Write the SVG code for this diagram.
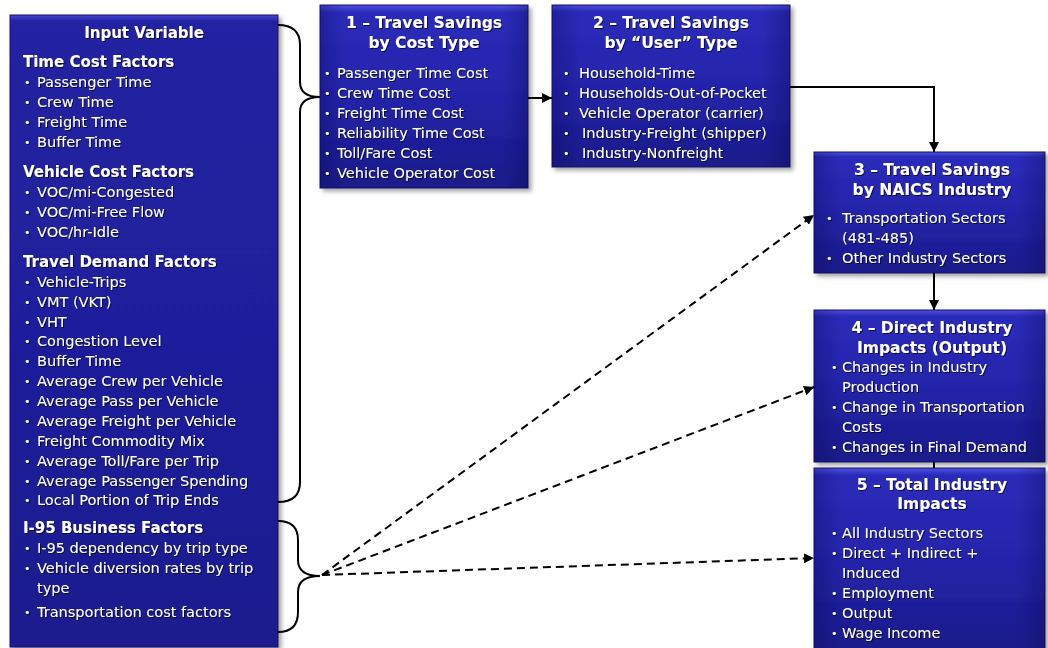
<svg xmlns="http://www.w3.org/2000/svg" width="1048" height="648" viewBox="0 0 1048 648">
<style>
.box{fill:url(#bg);stroke:#12126a;stroke-width:1}
.lbox{fill:url(#lg);stroke:#12126a;stroke-width:1}
.edge{fill:url(#eg);stroke:none}
.t{font-family:"DejaVu Sans",Verdana,sans-serif;font-size:14.5px;fill:#ffffff;filter:url(#ts)}
.h{font-weight:bold;font-size:15px}
.ht{font-weight:bold;font-size:15.5px}
.c{text-anchor:middle}
.b{font-size:11px}
.conn{stroke:#000;stroke-width:2;fill:none}
.dash{stroke-dasharray:8 5}
</style>
<defs>
<linearGradient id="bg" x1="0" y1="0" x2="0" y2="1">
<stop offset="0" stop-color="#5050e0"/>
<stop offset="0.04" stop-color="#2b2bba"/>
<stop offset="0.5" stop-color="#2424aa"/>
<stop offset="1" stop-color="#1a1a8a"/>
</linearGradient>
<linearGradient id="lg" x1="0" y1="0" x2="0" y2="1">
<stop offset="0" stop-color="#4848d8"/>
<stop offset="0.01" stop-color="#2222a2"/>
<stop offset="0.5" stop-color="#1f1f9c"/>
<stop offset="1" stop-color="#1c1c8e"/>
</linearGradient>
<linearGradient id="eg" x1="0" y1="0" x2="1" y2="0">
<stop offset="0" stop-color="#000040" stop-opacity="0.25"/>
<stop offset="0.12" stop-color="#000040" stop-opacity="0"/>
<stop offset="0.88" stop-color="#000040" stop-opacity="0"/>
<stop offset="1" stop-color="#000040" stop-opacity="0.25"/>
</linearGradient>
<filter id="sh" x="-10%" y="-10%" width="130%" height="130%">
<feDropShadow dx="3" dy="3" stdDeviation="2" flood-color="#000" flood-opacity="0.35"/>
</filter>
<filter id="ts" x="-5%" y="-30%" width="115%" height="160%">
<feDropShadow dx="1" dy="1" stdDeviation="0.5" flood-color="#000" flood-opacity="0.7"/>
</filter>
<marker id="ah" viewBox="0 0 10 10" refX="10" refY="5" markerWidth="5" markerHeight="5" orient="auto" markerUnits="strokeWidth">
<path d="M0,0 L10,5 L0,10 z" fill="#000"/>
</marker>
</defs>
<rect width="1048" height="648" fill="#ffffff"/>

<g id="input-variable">
<rect class="lbox" x="10" y="15" width="268" height="632" filter="url(#sh)"/>
<text class="t h c" x="144" y="38">Input Variable</text>
<text class="t h" x="23" y="67">Time Cost Factors</text>
<text class="t b" x="24" y="86">•</text><text class="t" x="37" y="87">Passenger Time</text>
<text class="t b" x="24" y="106">•</text><text class="t" x="37" y="107">Crew Time</text>
<text class="t b" x="24" y="126">•</text><text class="t" x="37" y="127">Freight Time</text>
<text class="t b" x="24" y="146">•</text><text class="t" x="37" y="147">Buffer Time</text>
<text class="t h" x="23" y="177">Vehicle Cost Factors</text>
<text class="t b" x="24" y="196">•</text><text class="t" x="37" y="197">VOC/mi-Congested</text>
<text class="t b" x="24" y="216">•</text><text class="t" x="37" y="217">VOC/mi-Free Flow</text>
<text class="t b" x="24" y="236">•</text><text class="t" x="37" y="237">VOC/hr-Idle</text>
<text class="t h" x="23" y="267">Travel Demand Factors</text>
<text class="t b" x="24" y="286">•</text><text class="t" x="37" y="287">Vehicle-Trips</text>
<text class="t b" x="24" y="306">•</text><text class="t" x="37" y="307">VMT (VKT)</text>
<text class="t b" x="24" y="326">•</text><text class="t" x="37" y="327">VHT</text>
<text class="t b" x="24" y="345">•</text><text class="t" x="37" y="346">Congestion Level</text>
<text class="t b" x="24" y="365">•</text><text class="t" x="37" y="366">Buffer Time</text>
<text class="t b" x="24" y="385">•</text><text class="t" x="37" y="386">Average Crew per Vehicle</text>
<text class="t b" x="24" y="405">•</text><text class="t" x="37" y="406">Average Pass per Vehicle</text>
<text class="t b" x="24" y="425">•</text><text class="t" x="37" y="426">Average Freight per Vehicle</text>
<text class="t b" x="24" y="445">•</text><text class="t" x="37" y="446">Freight Commodity Mix</text>
<text class="t b" x="24" y="465">•</text><text class="t" x="37" y="466">Average Toll/Fare per Trip</text>
<text class="t b" x="24" y="485">•</text><text class="t" x="37" y="486">Average Passenger Spending</text>
<text class="t b" x="24" y="504">•</text><text class="t" x="37" y="505">Local Portion of Trip Ends</text>
<text class="t h" x="23" y="533">I-95 Business Factors</text>
<text class="t b" x="24" y="552">•</text><text class="t" x="37" y="553">I-95 dependency by trip type</text>
<text class="t b" x="24" y="572">•</text><text class="t" x="37" y="573">Vehicle diversion rates by trip</text>
<text class="t" x="37" y="593">type</text>
<text class="t b" x="24" y="616">•</text><text class="t" x="37" y="617">Transportation cost factors</text>
</g>

<g id="box1">
<rect class="box" x="320" y="5" width="208" height="183" filter="url(#sh)"/>
<rect class="edge" x="320" y="5" width="208" height="183"/>
<text class="t ht c" x="424" y="28">1 – Travel Savings</text>
<text class="t ht c" x="424" y="48">by Cost Type</text>
<text class="t b" x="324" y="77">•</text><text class="t" x="337" y="78">Passenger Time Cost</text>
<text class="t b" x="324" y="97">•</text><text class="t" x="337" y="98">Crew Time Cost</text>
<text class="t b" x="324" y="117">•</text><text class="t" x="337" y="118">Freight Time Cost</text>
<text class="t b" x="324" y="137">•</text><text class="t" x="337" y="138">Reliability Time Cost</text>
<text class="t b" x="324" y="157">•</text><text class="t" x="337" y="158">Toll/Fare Cost</text>
<text class="t b" x="324" y="177">•</text><text class="t" x="337" y="178">Vehicle Operator Cost</text>
</g>

<g id="box2">
<rect class="box" x="552" y="5" width="238" height="162" filter="url(#sh)"/>
<rect class="edge" x="552" y="5" width="238" height="162"/>
<text class="t ht c" x="671" y="28">2 – Travel Savings</text>
<text class="t ht c" x="671" y="48">by “User” Type</text>
<text class="t b" x="563" y="77">•</text><text class="t" x="579" y="78">Household-Time</text>
<text class="t b" x="563" y="97">•</text><text class="t" x="579" y="98">Households-Out-of-Pocket</text>
<text class="t b" x="563" y="117">•</text><text class="t" x="579" y="118">Vehicle Operator (carrier)</text>
<text class="t b" x="563" y="137">•</text><text class="t" x="582" y="138">Industry-Freight (shipper)</text>
<text class="t b" x="563" y="157">•</text><text class="t" x="582" y="158">Industry-Nonfreight</text>
</g>

<g id="box3">
<rect class="box" x="814" y="152" width="231" height="121" filter="url(#sh)"/>
<rect class="edge" x="814" y="152" width="231" height="121"/>
<text class="t ht c" x="932" y="175">3 – Travel Savings</text>
<text class="t ht c" x="932" y="195">by NAICS Industry</text>
<text class="t b" x="826" y="222">•</text><text class="t" x="842" y="223">Transportation Sectors</text>
<text class="t" x="842" y="243">(481-485)</text>
<text class="t b" x="826" y="262">•</text><text class="t" x="842" y="263">Other Industry Sectors</text>
</g>

<g id="box4">
<rect class="box" x="814" y="310" width="231" height="152" filter="url(#sh)"/>
<rect class="edge" x="814" y="310" width="231" height="152"/>
<text class="t ht c" x="932" y="333">4 – Direct Industry</text>
<text class="t ht c" x="932" y="353">Impacts (Output)</text>
<text class="t b" x="831" y="371">•</text><text class="t" x="842" y="372">Changes in Industry</text>
<text class="t" x="842" y="392">Production</text>
<text class="t b" x="831" y="411">•</text><text class="t" x="842" y="412">Change in  Transportation</text>
<text class="t" x="842" y="432">Costs</text>
<text class="t b" x="831" y="451">•</text><text class="t" x="842" y="452">Changes in Final Demand</text>
</g>

<g id="box5">
<rect class="box" x="814" y="468" width="231" height="182" filter="url(#sh)"/>
<rect class="edge" x="814" y="468" width="231" height="182"/>
<text class="t ht c" x="932" y="490">5 – Total Industry</text>
<text class="t ht c" x="932" y="509">Impacts</text>
<text class="t b" x="831" y="537">•</text><text class="t" x="842" y="538">All Industry Sectors</text>
<text class="t b" x="831" y="557">•</text><text class="t" x="842" y="558">Direct + Indirect +</text>
<text class="t" x="842" y="578">Induced</text>
<text class="t b" x="831" y="597">•</text><text class="t" x="842" y="598">Employment</text>
<text class="t b" x="831" y="617">•</text><text class="t" x="842" y="618">Output</text>
<text class="t b" x="831" y="637">•</text><text class="t" x="842" y="638">Wage Income</text>
</g>

<g id="connectors">
<path class="conn" d="M278,25 Q300,25 300,45 L300,82 Q300,97 320,97 Q300,97 300,112 L300,482 Q300,502 278,502"/>
<path class="conn" d="M278,521 Q298,521 298,540 L298,560 Q298,576 320,576 Q298,576 298,592 L298,612 Q298,632 278,632"/>
<path class="conn" d="M528,98 L552,98" marker-end="url(#ah)"/>
<path class="conn" d="M790,87 L934,87 L934,152" marker-end="url(#ah)"/>
<path class="conn" d="M934,273 L934,310" marker-end="url(#ah)"/>
<path class="conn" d="M934,462 L934,468"/>
<path class="conn dash" d="M322,575 L814,215" marker-end="url(#ah)"/>
<path class="conn dash" d="M322,575 L814,387" marker-end="url(#ah)"/>
<path class="conn dash" d="M322,575 L814,558" marker-end="url(#ah)"/>
</g>
</svg>
